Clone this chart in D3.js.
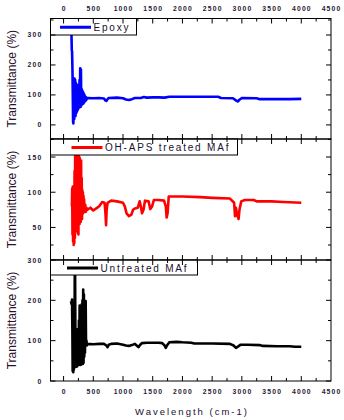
<!DOCTYPE html>
<html><head><meta charset="utf-8">
<script src="https://cdn.jsdelivr.net/npm/d3@7"></script>
<style>
html,body{margin:0;padding:0;background:#fff;}
svg{display:block;font-family:"Liberation Sans",Arial,sans-serif;}
</style></head>
<body><svg id="c" width="344" height="420"></svg>
<script>
// ---- data (wavenumber, transmittance %) ----
const xTicks = [0,500,1000,1500,2000,2500,3000,3500,4000,4500];
const seriesNames = ["Epoxy","OH-APS treated MAf","Untreated MAf"];
const seriesColors = ["#0000ff","#ff0000","#000000"];

const epoxyWn = [120,128,133,138,143,150,155,160,165,170,175,180,185,190,196,202,208,214,220,226,232,238,244,250,256,262,268,274,280,286,292,298,304,310,316,322,328,334,340,346,352,358,364,370,378,388,400,500,600,680,700,720,740,760,900,1000,1050,1100,1150,1200,1300,1350,1400,1500,1600,1700,1780,2000,2300,2600,2650,2850,2900,2930,2960,3000,3250,3300,3600,3800,4000];
const epoxyT  = [330,320,300,250,245,180,100,10,5,60,150,20,155,35,150,30,140,40,135,45,125,50,130,55,110,58,150,62,189,60,185,65,120,68,115,70,110,72,105,75,100,78,95,80,92,85,90,89,90,88,82,80,86,90,91,89,85,83,86,90,90,93,91,92,92,91,94,94,94,94,90,89,82,78,84,90,89,86,86,86,87];

const ohapsWn = [130,140,145,150,155,160,165,170,175,180,185,190,195,200,205,210,215,220,225,230,235,240,245,250,255,260,265,270,275,280,285,290,295,300,305,310,315,320,325,330,335,340,345,355,365,375,385,400,450,500,550,600,650,690,705,715,725,740,800,900,1000,1030,1060,1100,1140,1170,1200,1250,1280,1300,1320,1345,1370,1430,1460,1490,1520,1600,1690,1720,1735,1750,1770,2000,2300,2500,2800,2870,2885,2900,2920,2945,2960,2990,3050,3200,3250,3500,3700,4000];
const ohapsT  = [80,80,105,40,108,30,100,25,95,28,130,35,152,60,153,45,150,70,153,50,150,42,145,40,153,90,150,55,148,60,145,58,145,70,120,62,103,75,100,70,95,72,90,75,82,72,78,75,78,74,77,80,86,85,70,53,75,85,88,87,85,80,70,66,68,75,77,78,87,80,70,75,88,87,76,80,89,89,88,80,64,70,94,94,93,92,91,85,66,78,68,62,75,87,89,89,87,87,86,85];

const untreatedWn = [125,135,142,148,153,158,163,168,173,178,183,188,194,199,204,210,216,222,228,234,240,246,252,258,264,270,276,282,288,294,300,306,312,318,324,330,336,342,348,354,360,366,372,378,385,392,400,500,600,680,720,740,760,800,900,1000,1050,1100,1150,1200,1230,1260,1290,1320,1400,1500,1600,1660,1700,1720,1740,1780,1900,2000,2150,2200,2500,2800,2860,2900,2940,2980,3100,3300,3350,3600,3800,3900,4000];
const untreatedT  = [198,190,202,130,25,170,22,190,28,195,35,262,262,100,35,128,38,125,36,128,40,120,42,150,40,187,42,185,40,175,42,190,45,200,42,227,45,215,60,140,70,170,198,90,100,88,92,91,92,92,88,84,90,92,93,90,88,87,89,92,88,84,90,94,95,95,95,94,88,82,88,96,97,96,95,93,93,92,88,82,86,90,90,89,87,86,86,85,85];

// ---- layout ----
const L = 50.5, R = 331;
const panels = [
  {wn: epoxyWn, t: epoxyT, top: 18.5, bot: 139, dom: [-47,355], ticks:[0,100,200,300], minor:[50,150,250,350], legW: 86, legH: 16.5},
  {wn: ohapsWn, t: ohapsT, top: 139, bot: 260, dom: [3.7,175.6], ticks:[50,100,150], minor:[25,75,125,175], legW: 187, legH: 16},
  {wn: untreatedWn, t: untreatedT, top: 260, bot: 381, dom: [0,300], ticks:[0,100,200,300], minor:[50,150,250], legW: 147, legH: 15}
];

const svg = d3.select("#c");
const x = d3.scaleLinear().domain([-220,4500]).range([L,R]);
const xMinor = d3.range(250,4500,500);
const tickFont = "6.8px", tickColor = "#2a2030";

panels.forEach((p,i) => {
  const y = d3.scaleLinear().domain(p.dom).range([p.bot,p.top]);
  const g = svg.append("g");
  const cid = "clip"+i;
  svg.append("defs").append("clipPath").attr("id",cid)
    .append("rect").attr("x",L).attr("y",p.top).attr("width",R-L).attr("height",p.bot-p.top);

  // line
  const pts = p.wn.map((w,k)=>[w,p.t[k]]);
  g.append("path").datum(pts)
    .attr("clip-path",`url(#${cid})`)
    .attr("fill","none").attr("stroke",seriesColors[i]).attr("stroke-width",2.6)
    .attr("stroke-linejoin","round")
    .attr("d", d3.line().x(d=>x(d[0])).y(d=>y(d[1])));

  // legend
  const lg = g.append("g");
  lg.append("rect").attr("x",L).attr("y",p.top).attr("width",p.legW).attr("height",p.legH)
    .attr("fill","#fff").attr("stroke","#000").attr("stroke-width",1);
  const ly = p.top + p.legH/2 + 0.5;
  const lx0 = [60,71.5,67][i];
  lg.append("line").attr("x1",lx0).attr("x2",lx0+31).attr("y1",ly).attr("y2",ly)
    .attr("stroke",seriesColors[i]).attr("stroke-width",3);
  lg.append("text").attr("x",lx0+33.5).attr("y",ly+3.6)
    .attr("font-size","10px").attr("letter-spacing","1.8px").attr("fill","#1a1030")
    .text(seriesNames[i]);

  // frame
  g.append("rect").attr("x",L).attr("y",p.top).attr("width",R-L).attr("height",p.bot-p.top)
    .attr("fill","none").attr("stroke","#000").attr("stroke-width",1);

  // x ticks (inward, top and bottom)
  const tg = g.append("g").attr("stroke","#000").attr("stroke-width",1);
  xTicks.filter(v=>v>-220 && v<4500).forEach(v=>{
    tg.append("line").attr("x1",x(v)).attr("x2",x(v)).attr("y1",p.bot).attr("y2",p.bot-5);
    tg.append("line").attr("x1",x(v)).attr("x2",x(v)).attr("y1",p.top).attr("y2",p.top+5);
  });
  xMinor.forEach(v=>{
    tg.append("line").attr("x1",x(v)).attr("x2",x(v)).attr("y1",p.bot).attr("y2",p.bot-3);
    tg.append("line").attr("x1",x(v)).attr("x2",x(v)).attr("y1",p.top).attr("y2",p.top+3);
  });
  // y ticks (inward, left and right)
  p.ticks.forEach(v=>{
    tg.append("line").attr("x1",L).attr("x2",L+5).attr("y1",y(v)).attr("y2",y(v));
    tg.append("line").attr("x1",R).attr("x2",R-5).attr("y1",y(v)).attr("y2",y(v));
  });
  p.minor.filter(v=>v>p.dom[0]&&v<p.dom[1]).forEach(v=>{
    tg.append("line").attr("x1",L).attr("x2",L+3).attr("y1",y(v)).attr("y2",y(v));
    tg.append("line").attr("x1",R).attr("x2",R-3).attr("y1",y(v)).attr("y2",y(v));
  });
  // y tick labels
  p.ticks.forEach(v=>{
    g.append("text").attr("x",L-8).attr("y",y(v)+2.5).attr("text-anchor","end")
      .attr("font-size",tickFont).attr("font-weight","bold").attr("letter-spacing","1.2px")
      .attr("fill",tickColor).text(v);
  });
  // y title
  g.append("text").attr("transform",`translate(${16},${(p.top+p.bot)/2}) rotate(-90)`)
    .attr("text-anchor","middle").attr("font-size","12px").attr("fill","#2a1028")
    .text("Transmittance (%)");

  // x tick labels
  if (i===0 || i===2) {
    const ty = i===0 ? 11 : 394;
    xTicks.forEach(v=>{
      g.append("text").attr("x",x(v)+0.6).attr("y",ty).attr("text-anchor","middle")
        .attr("font-size",tickFont).attr("font-weight","bold").attr("letter-spacing","1.2px")
        .attr("fill",tickColor).text(v);
    });
  }
});

svg.append("text").attr("x",192).attr("y",415).attr("text-anchor","middle")
  .attr("font-size","9.5px").attr("letter-spacing","2px").attr("fill","#1a1030")
  .text("Wavelength (cm-1)");
</script>
</body></html>
